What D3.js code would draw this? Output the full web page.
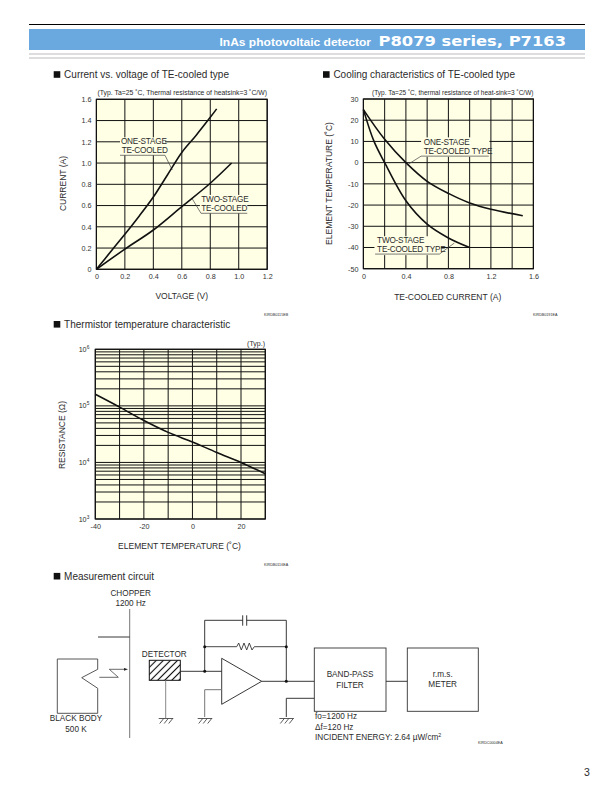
<!DOCTYPE html>
<html><head><meta charset="utf-8">
<script src="https://cdnjs.cloudflare.com/ajax/libs/d3/7.8.5/d3.min.js"></script>
<style>
html,body{margin:0;padding:0;background:#fff}
svg{display:block}
text{font-family:"Liberation Sans",Arial,sans-serif;fill:#2b2b2b}
</style></head><body>
<svg id="page" width="612" height="792"></svg>
<script>
// ---- data ----
const ivVoltage1 = [0,0.1,0.2,0.3,0.4,0.5,0.6,0.7,0.8,0.845];
const ivCurrent1 = [0,0.165,0.33,0.5,0.68,0.89,1.1,1.26,1.43,1.51];
const ivVoltage2 = [0,0.2,0.4,0.6,0.8,0.95];
const ivCurrent2 = [0,0.19,0.37,0.59,0.81,1.0];
const ivXTicks = [0,0.2,0.4,0.6,0.8,1.0,1.2];
const ivYTicks = [0,0.2,0.4,0.6,0.8,1.0,1.2,1.4,1.6];

const coolCurrent1 = [0,0.2,0.4,0.6,0.8,1.0,1.2,1.5];
const coolTemp1 = [25,11,0,-8.8,-14.5,-19,-22,-25];
const coolCurrent2 = [0,0.1,0.2,0.4,0.6,0.8,1.0];
const coolTemp2 = [25,10,0,-18,-29,-35.5,-40];
const coolXGrid = [0,0.2,0.4,0.6,0.8,1.0,1.2,1.4,1.6];
const coolXLabels = [0,0.4,0.8,1.2,1.6];
const coolYTicks = [30,20,10,0,-10,-20,-30,-40,-50];

const thermTemp = [-40,-30,-20,-10,0,10,20,30];
const thermRes = [160000,95000,55000,34000,23000,15000,10000,6300];
const thermXGrid = [-40,-30,-20,-10,0,10,20,30];
const thermXLabels = [-40,-20,0,20];
const thermDecades = [3,4,5,6];

// ---- helpers ----
const svg = d3.select("#page");
const INK = "#111";
const YEL = "#ffffe6";
function text(g,x,y,s,size,anchor,extra){
  const t=g.append("text").attr("x",x).attr("y",y).attr("font-size",size)
    .attr("text-anchor",anchor||"start").text(s);
  if(extra) for(const k in extra) t.attr(k,extra[k]);
  return t;
}
function heading(x,y,s){
  svg.append("rect").attr("x",x).attr("y",y-6.8).attr("width",6.6).attr("height",6.6).attr("fill","#111");
  text(svg,x+10.4,y,s,10,"start");
}
function rotLabel(x,y,s,size){
  svg.append("text").attr("transform",`translate(${x},${y}) rotate(-90)`)
    .attr("text-anchor","middle").attr("font-size",size).text(s);
}
function frame(x,y,x0,x1,y0,y1,xGrid,yGrid){
  const g=svg.append("g");
  g.append("rect").attr("x",x0).attr("y",y1).attr("width",x1-x0).attr("height",y0-y1).attr("fill",YEL);
  g.selectAll(".v").data(xGrid).join("line").attr("x1",d=>x(d)).attr("x2",d=>x(d)).attr("y1",y0).attr("y2",y1)
    .attr("stroke",INK).attr("stroke-width",1);
  g.selectAll(".h").data(yGrid).join("line").attr("x1",x0).attr("x2",x1).attr("y1",d=>y(d)).attr("y2",d=>y(d))
    .attr("stroke",INK).attr("stroke-width",1);
  return g;
}
function border(x0,x1,y0,y1){
  svg.append("rect").attr("x",x0).attr("y",y1).attr("width",x1-x0).attr("height",y0-y1)
    .attr("fill","none").attr("stroke",INK).attr("stroke-width",1.2);
}
function axes(xScale,yScale,x0,y0,xVals,yVals,xFmt,yFmt){
  const ax=svg.append("g").attr("transform",`translate(0,${y0})`)
    .call(d3.axisBottom(xScale).tickValues(xVals).tickSize(0).tickPadding(5).tickFormat(xFmt));
  const ay=svg.append("g").attr("transform",`translate(${x0},0)`)
    .call(d3.axisLeft(yScale).tickValues(yVals).tickSize(0).tickPadding(5).tickFormat(yFmt));
  [ax,ay].forEach(a=>{a.select(".domain").remove();
    a.selectAll("text").attr("font-size",7.2).attr("font-family",'"Liberation Sans",Arial,sans-serif').style("fill","#333");});
  return [ax,ay];
}
function curve(x,y,xs,ys,w){
  svg.append("path").datum(xs.map((d,i)=>[d,ys[i]]))
    .attr("d",d3.line().x(d=>x(d[0])).y(d=>y(d[1])).curve(d3.curveCatmullRom.alpha(0.5)))
    .attr("fill","none").attr("stroke","#111").attr("stroke-width",w||1.6);
}
function note(x,y,mask,lines,leader){
  svg.append("rect").attr("x",x(mask[0])).attr("y",y(mask[1]))
    .attr("width",x(mask[2])-x(mask[0])).attr("height",y(mask[3])-y(mask[1])).attr("fill",YEL);
  lines.forEach(l=>text(svg,x(l[0]),y(l[1]),l[2],8.2,"start",{"letter-spacing":"-0.2"}));
  svg.append("path").datum(leader).attr("d",d3.line().x(d=>x(d[0])).y(d=>y(d[1])))
    .attr("fill","none").attr("stroke","#444").attr("stroke-width",0.7);
}

// ---- page header ----
svg.append("line").attr("x1",29).attr("x2",585).attr("y1",24.5).attr("y2",24.5).attr("stroke","#000").attr("stroke-width",1);
svg.append("rect").attr("x",29).attr("y",29).attr("width",556).attr("height",21).attr("fill","#6aa9e0");
[54,58].forEach(v=>svg.append("line").attr("x1",29).attr("x2",585).attr("y1",v).attr("y2",v).attr("stroke","#bbb").attr("stroke-width",1));
text(svg,219.5,46,"InAs photovoltaic detector",10,"start",{"font-weight":"bold",textLength:151.5,lengthAdjust:"spacingAndGlyphs"}).style("fill","#fff");
text(svg,378.5,46,"P8079 series, P7163",14.5,"start",{"font-weight":"bold",textLength:187.5,lengthAdjust:"spacingAndGlyphs"})
  .style("fill","#fff").style("font-family",'"DejaVu Sans",sans-serif');

// ---- chart 1 ----
{
  const x0=96.4,x1=267.2,y0=269.3,y1=99.3;
  const x=d3.scaleLinear().domain([0,1.2]).range([x0,x1]);
  const y=d3.scaleLinear().domain([0,1.6]).range([y0,y1]);
  heading(53.7,78,"Current vs. voltage of TE-cooled type");
  text(svg,97.5,95.3,"(Typ. Ta=25 ˚C, Thermal resistance of heatsink=3 ˚C/W)",7,"start",{textLength:169.5,lengthAdjust:"spacingAndGlyphs"});
  frame(x,y,x0,x1,y0,y1,ivXTicks,ivYTicks);
  axes(x,y,x0,y0,ivXTicks,ivYTicks,d=>d===0?"0":d3.format(".1f")(d),d=>d===0?"0":d3.format(".1f")(d));
  note(x,y,[0.166,1.242,0.482,1.073],[[0.172,1.183,"ONE-STAGE"],[0.178,1.095,"TE-COOLED"]],[[0.166,1.073],[0.482,1.073],[0.533,0.935]]);
  note(x,y,[0.727,0.70,1.06,0.527],[[0.737,0.634,"TWO-STAGE"],[0.737,0.549,"TE-COOLED"]],[[1.06,0.527],[0.735,0.527],[0.674,0.662]]);
  curve(x,y,ivVoltage1,ivCurrent1);
  curve(x,y,ivVoltage2,ivCurrent2);
  border(x0,x1,y0,y1);
  rotLabel(66,183.5,"CURRENT (A)",8.5);
  text(svg,181.7,299,"VOLTAGE (V)",8.5,"middle");
  text(svg,264,315.5,"KIRDB0115EB",3.7);
}

// ---- chart 2 ----
{
  const x0=363.4,x1=533.4,y0=268.7,y1=99;
  const x=d3.scaleLinear().domain([0,1.6]).range([x0,x1]);
  const y=d3.scaleLinear().domain([-50,30]).range([y0,y1]);
  heading(323,78,"Cooling characteristics of TE-cooled type");
  text(svg,372,95.3,"(Typ. Ta=25 ˚C, thermal resistance of heat-sink=3 ˚C/W)",7,"start",{textLength:161.5,lengthAdjust:"spacingAndGlyphs"});
  frame(x,y,x0,x1,y0,y1,coolXGrid,coolYTicks);
  axes(x,y,x0,y0,coolXLabels,coolYTicks,d=>d===0?"0":d3.format(".1f")(d),d=>String(d).replace("\u2212","-"));
  note(x,y,[0.543,11.9,1.186,2.76],[[0.568,8.4,"ONE-STAGE"],[0.568,4.0,"TE-COOLED TYPE"]],[[1.18,3.07],[0.543,3.07],[0.408,-1.2]]);
  note(x,y,[0.104,-34.7,0.731,-43.6],[[0.129,-37.9,"TWO-STAGE"],[0.129,-42.1,"TE-COOLED TYPE"]],[[0.11,-43.1],[0.715,-43.1],[0.856,-37.9]]);
  curve(x,y,coolCurrent1,coolTemp1);
  curve(x,y,coolCurrent2,coolTemp2);
  border(x0,x1,y0,y1);
  rotLabel(332,183.5,"ELEMENT TEMPERATURE (˚C)",8.5);
  text(svg,447.7,299.5,"TE-COOLED CURRENT (A)",8.5,"middle");
  text(svg,533,315.5,"KIRDB0191EA",3.7);
}

// ---- chart 3 ----
{
  const x0=95.3,x1=265.3,y0=519,y1=349.3;
  const x=d3.scaleLinear().domain([-40,30]).range([x0,x1]);
  const y=d3.scaleLog().domain([1e3,1e6]).range([y0,y1]);
  heading(53.7,327.8,"Thermistor temperature characteristic");
  const minor=y.ticks().filter(d=>d>=1e3&&d<=1e6);
  frame(x,y,x0,x1,y0,y1,thermXGrid,minor);
  const [ax,ay]=axes(x,y,x0,y0,thermXLabels,thermDecades.map(d=>Math.pow(10,d)),d=>d,()=>"");
  ay.selectAll("text").remove();
  thermDecades.forEach(d=>{
    const t=text(svg,x0-6,y(Math.pow(10,d))+2.6,"10",7.2,"end");
    t.append("tspan").attr("font-size",4.8).attr("dy",-3).text(d);
  });
  text(svg,265,345.7,"(Typ.)",7,"end");
  curve(x,y,thermTemp,thermRes);
  border(x0,x1,y0,y1);
  rotLabel(65,435,"RESISTANCE (Ω)",8.5);
  text(svg,179.5,549,"ELEMENT TEMPERATURE (˚C)",8.5,"middle");
  text(svg,264,566,"KIRDB0116EA",3.7);
}

// ---- measurement circuit ----
{
  heading(53.7,579.7,"Measurement circuit");
  const c=svg.append("g").attr("fill","none");
  const defs=svg.append("defs");
  const pat=defs.append("pattern").attr("id","hatch").attr("width",5).attr("height",5)
    .attr("patternUnits","userSpaceOnUse").attr("patternTransform","rotate(-45)");
  pat.append("rect").attr("width",5).attr("height",5).attr("fill","#fff");
  pat.append("line").attr("x1",0).attr("x2",5).attr("y1",2.5).attr("y2",2.5).attr("stroke","#111").attr("stroke-width",1.1);
  const wire=(d,col,w)=>c.append("path").attr("d",d).attr("stroke",col||"#222").attr("stroke-width",w||0.9);
  // chopper
  wire("M129.7 609V738","#777",1);
  wire("M98 637H129.7");
  // black body
  wire("M57.3 659H97.7V669.3L81.7 677.7L97.7 688.3V713.3H57.3Z","#444",0.9);
  // radiation
  wire("M99.3 677.3H118.3L109.3 669.3H125","#444",0.8);
  c.append("path").attr("d","M128 669.3L124 667.9V670.7Z").attr("fill","#222");
  // detector
  c.append("rect").attr("x",149.3).attr("y",660.3).attr("width",31).attr("height",20).attr("fill","url(#hatch)").attr("stroke","#111").attr("stroke-width",1);
  wire("M165.7 680.3V718","#888",1);
  wire("M180.3 671.3H221.7");
  // feedback
  wire("M204.7 671.3V620.3H242.7");
  wire("M242.7 615.3V625.7M246.7 615.3V625.7");
  wire("M246.7 620.3H286.3V681.3");
  wire("M204.7 646.7H236.7L238.7 643L241.3 650L244 643L246.7 650L249.3 643L252 650L254.3 646.7H286.3","#333",0.9);
  // amplifier
  wire("M221.7 658.3V704.3L261.7 681.3Z");
  wire("M261.7 681.3H314.3");
  wire("M221.7 689.7H204.7V717","#777",1);
  wire("M314.3 698.3H286.3V717");
  // dots
  const dots=[[204.7,646.7],[286.3,646.7],[204.7,671.3],[286.3,681.3]];
  c.selectAll(".dot").data(dots).join("circle").attr("cx",d=>d[0]).attr("cy",d=>d[1]).attr("r",1.5).attr("fill","#111");
  // grounds
  [165.7,204.7,286.3].forEach(gx=>{
    wire(`M${gx-7} 718.5H${gx+7.5}M${gx-2} 718.5L${gx-6} 723.5M${gx+2.5} 718.5L${gx-1.5} 723.5M${gx+7} 718.5L${gx+3} 723.5`,"#333",0.8);
  });
  // boxes
  c.append("rect").attr("x",314.3).attr("y",648).attr("width",71.7).attr("height",63.3).attr("stroke","#333").attr("stroke-width",0.9);
  c.append("rect").attr("x",407.3).attr("y",648).attr("width",71).attr("height",63.3).attr("stroke","#333").attr("stroke-width",0.9);
  wire("M386 681.3H407.3");
  // labels
  const fs=8.2;
  text(svg,130.7,595.7,"CHOPPER",fs,"middle");
  text(svg,130.7,605.8,"1200 Hz",fs,"middle");
  text(svg,164.3,656.8,"DETECTOR",fs,"middle");
  text(svg,76,721,"BLACK BODY",fs,"middle");
  text(svg,76,732.3,"500 K",fs,"middle");
  text(svg,350,676.7,"BAND-PASS",fs,"middle");
  text(svg,350,688,"FILTER",fs,"middle");
  text(svg,442.7,676.5,"r.m.s.",fs,"middle");
  text(svg,442.7,687,"METER",fs,"middle");
  text(svg,315,719,"fo=1200 Hz",fs);
  text(svg,315,730,"Δf=120 Hz",fs);
  const inc=text(svg,315,740,"INCIDENT ENERGY: 2.64 µW/cm",fs);
  inc.append("tspan").attr("font-size",5.4).attr("dy",-3).text("2");
  text(svg,478,744,"KIRDC0004EA",3.7);
  text(svg,587,776,"3",10.5,"middle");
}
</script>
</body></html>
